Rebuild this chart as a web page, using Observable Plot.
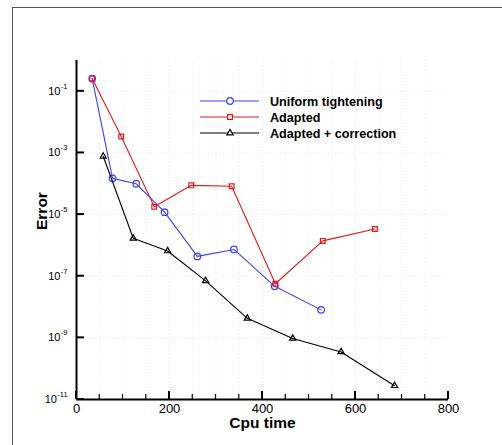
<!DOCTYPE html>
<html>
<head>
<meta charset="utf-8">
<script src="https://cdn.jsdelivr.net/npm/d3@7"></script>
<script src="https://cdn.jsdelivr.net/npm/@observablehq/plot@0.6"></script>
<style>
  html, body { margin: 0; padding: 0; background: #fff; }
  #wrap { position: relative; width: 502px; height: 445px; overflow: hidden; font-family: "Liberation Sans", Arial, sans-serif; }
  #frame { position: absolute; left: 12px; top: 7px; width: 600px; height: 600px; border-top: 1.5px solid #555; border-left: 1.5px solid #555; pointer-events: none; }
  #overlay { position: absolute; left: 0; top: 0; pointer-events: none; }
</style>
</head>
<body>
<div id="wrap"><div id="frame"></div></div>
<script>
// ---- data ----
const seriesNames = ["Uniform tightening", "Adapted", "Adapted + correction"];
const uniformX   = [33.7, 77.5, 128.5, 189.5, 259.8, 338.7, 426.3, 526];
const uniformErr = [0.26, 1.5e-4, 1.0e-4, 1.2e-5, 4.4e-7, 7.4e-7, 4.7e-8, 8.1e-9];
const adaptedX   = [33.7, 96.2, 167.2, 246.9, 333.7, 427.7, 529.6, 641.6];
const adaptedErr = [0.26, 3.4e-3, 1.8e-5, 8.9e-5, 8.3e-5, 5.7e-8, 1.4e-6, 3.4e-6];
const corrX      = [57.4, 122, 195.9, 277.7, 367.4, 465, 569, 684];
const corrErr    = [7.8e-4, 1.7e-6, 6.6e-7, 7.1e-8, 4.3e-9, 9.6e-10, 3.5e-10, 2.8e-11];
const xMajorTicks = [0, 200, 400, 600, 800];
const xMinorTicks = [50, 100, 150, 250, 300, 350, 450, 500, 550, 650, 700, 750];
const yExponents  = [-1, -3, -5, -7, -9, -11];

// ---- build ----
const colors = ["#3f3fff", "#e01a1a", "#000000"];
const symbols = ["circle", "square", "triangle"];
const radii = [3.3, 2.7, 2.3];
const mk = (xs, ys, s) => xs.map((x, i) => ({x, y: ys[i], s}));
const series = [mk(uniformX, uniformErr, 0), mk(adaptedX, adaptedErr, 1), mk(corrX, corrErr, 2)];
const yTicks = yExponents.map(e => Math.pow(10, e));

const W = 502, H = 445, mL = 76, mR = 54, mT = 60, mB = 46;

const gridX = xMinorTicks.concat([200, 400, 600]);
const gridY = yTicks.filter(d => d > 1e-11);

const marks = [
  Plot.ruleX(gridX, {x: d => d, stroke: "#d8d8d8", strokeOpacity: 0.6, strokeDasharray: "1,2"}),
  Plot.ruleY(gridY, {y: d => d, stroke: "#d8d8d8", strokeOpacity: 0.6, strokeDasharray: "1,2"}),
];
series.forEach((data, i) => {
  marks.push(Plot.line(data, {x: "x", y: "y", stroke: colors[i], strokeWidth: 1.1}));
  marks.push(Plot.dot(data, {x: "x", y: "y", symbol: symbols[i], r: radii[i], stroke: colors[i], fill: "none", strokeWidth: 1.2}));
});
marks.push(
  Plot.ruleX([0], {x: d => d, stroke: "black", strokeWidth: 2}),
  Plot.ruleY([1e-11], {y: d => d, stroke: "black", strokeWidth: 2}),
  Plot.axisX(xMajorTicks, {tickSize: 0, tickPadding: 4, fontSize: 13, tickFormat: d => String(d), label: null}),
  Plot.text(yTicks, {filter: d => Math.log10(d) > -10, y: d => d, frameAnchor: "left", text: () => "10", textAnchor: "end", dx: -16, fontSize: 11}),
  Plot.text(yTicks, {filter: d => Math.log10(d) > -10, y: d => d, frameAnchor: "left", text: d => String(Math.round(Math.log10(d))), textAnchor: "start", dx: -15.7, dy: -5, fontSize: 7.5}),
  Plot.text(yTicks, {filter: d => Math.log10(d) <= -10, y: d => d, frameAnchor: "left", text: () => "10", textAnchor: "end", dx: -19.5, fontSize: 11}),
  Plot.text(yTicks, {filter: d => Math.log10(d) <= -10, y: d => d, frameAnchor: "left", text: d => String(Math.round(Math.log10(d))), textAnchor: "start", dx: -19.2, dy: -5, fontSize: 7.5}),
  Plot.text(["Cpu time"], {frameAnchor: "bottom", text: d => d, dy: 24, fontSize: 15.5, fontWeight: "bold", lineAnchor: "middle"}),
  Plot.text(["Error"], {frameAnchor: "left", text: d => d, dx: -34, rotate: -90, fontSize: 15.5, fontWeight: "bold", lineAnchor: "middle"})
);

const chart = Plot.plot({
  width: W, height: H,
  marginLeft: mL, marginRight: mR, marginTop: mT, marginBottom: mB,
  style: {fontFamily: "'Liberation Sans', Arial, sans-serif", color: "black", background: "transparent", overflow: "visible"},
  x: {type: "linear", domain: [0, 800], axis: null},
  y: {type: "log", domain: [1e-11, 1], axis: null},
  marks
});
chart.style.position = "absolute";
chart.style.left = "0";
chart.style.top = "0";
document.getElementById("wrap").appendChild(chart);

// ---- inward ticks and legend overlay, placed with the chart's own scales ----
const sx = chart.scale("x"), sy = chart.scale("y");
const xBase = sy.apply(1e-11), yBase = sx.apply(0);
const ov = d3.select("#wrap").append("svg").attr("id", "overlay").attr("width", W).attr("height", H);
xMajorTicks.forEach(v => ov.append("line").attr("x1", sx.apply(v)).attr("x2", sx.apply(v))
  .attr("y1", xBase).attr("y2", xBase - 8).attr("stroke", "black").attr("stroke-width", 2));
xMinorTicks.forEach(v => ov.append("line").attr("x1", sx.apply(v)).attr("x2", sx.apply(v))
  .attr("y1", xBase).attr("y2", xBase - 5).attr("stroke", "black").attr("stroke-width", 1.2));
yTicks.forEach(v => ov.append("line").attr("x1", yBase).attr("x2", yBase + 8)
  .attr("y1", sy.apply(v)).attr("y2", sy.apply(v)).attr("stroke", "black").attr("stroke-width", 2));

const legX0 = 200, legX1 = 259, legSym = 230, legText = 270, legY0 = 101, legDy = 16;
seriesNames.forEach((name, i) => {
  const y = legY0 + i * legDy;
  ov.append("line").attr("x1", legX0).attr("x2", legX1).attr("y1", y).attr("y2", y)
    .attr("stroke", colors[i]).attr("stroke-width", 1.1);
  const sym = {circle: d3.symbolCircle, square: d3.symbolSquare, triangle: d3.symbolTriangle}[symbols[i]];
  ov.append("path").attr("d", d3.symbol(sym, Math.PI * radii[i] * radii[i])())
    .attr("transform", `translate(${legSym},${y})`)
    .attr("fill", "white").attr("stroke", colors[i]).attr("stroke-width", 1.2);
  ov.append("text").attr("x", legText).attr("y", y).attr("dy", "0.36em")
    .attr("font-family", "'Liberation Sans', Arial, sans-serif")
    .attr("font-size", 12.6).attr("font-weight", "bold").attr("fill", "black").text(name);
});
</script>
</body>
</html>
